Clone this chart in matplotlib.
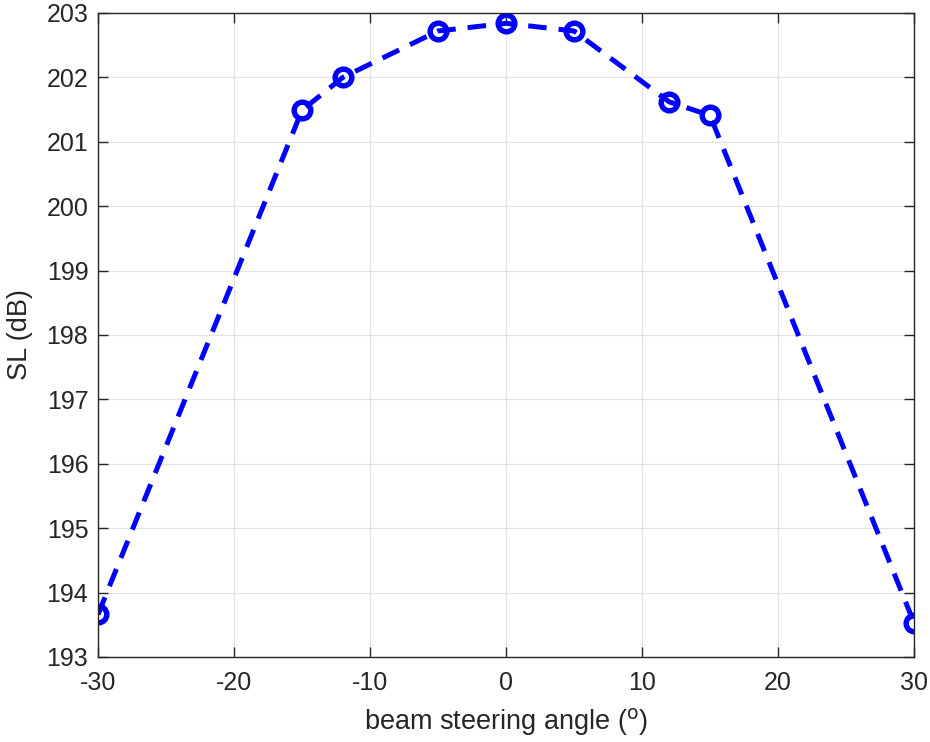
import matplotlib.pyplot as plt

plt.rcParams['font.family'] = ['Liberation Sans', 'DejaVu Sans']
plt.rcParams['axes.unicode_minus'] = False

angle = [-30, -15, -12, -5, 0, 5, 12, 15, 30]
sl = [193.66, 201.49, 202.0, 202.72, 202.84, 202.72, 201.62, 201.41, 193.53]

fig = plt.figure(figsize=(9.3, 7.42), dpi=100)
ax = fig.add_axes([0.1054, 0.1146, 0.8774, 0.8679])

ax.plot(angle, sl, color='#0000ff', linestyle='--', dashes=(3.7, 2.4), linewidth=3.6,
        marker='o', markersize=12, markerfacecolor='none', markeredgewidth=3.9)

ax.set_xlim(-30, 30)
ax.set_ylim(193, 203)
ax.set_xticks(range(-30, 31, 10))
ax.set_yticks(range(193, 204))
ax.grid(True, color='#e2e2e2', linewidth=0.9)
ax.set_axisbelow(True)

dark = '#262626'
for s in ax.spines.values():
    s.set_color(dark)
    s.set_linewidth(1.0)
ax.tick_params(direction='in', top=True, right=True, length=7, width=1.0,
               colors=dark, labelsize=18)
ax.tick_params(axis='x', pad=10)
ax.tick_params(axis='y', pad=7)

ax.set_xlabel(r'beam steering angle ($^{\mathrm{o}}$)', fontsize=19.5, color=dark, labelpad=8)
ax.set_ylabel('SL (dB)', fontsize=19.5, color=dark, labelpad=10)

fig.savefig('out.png', dpi=100)
